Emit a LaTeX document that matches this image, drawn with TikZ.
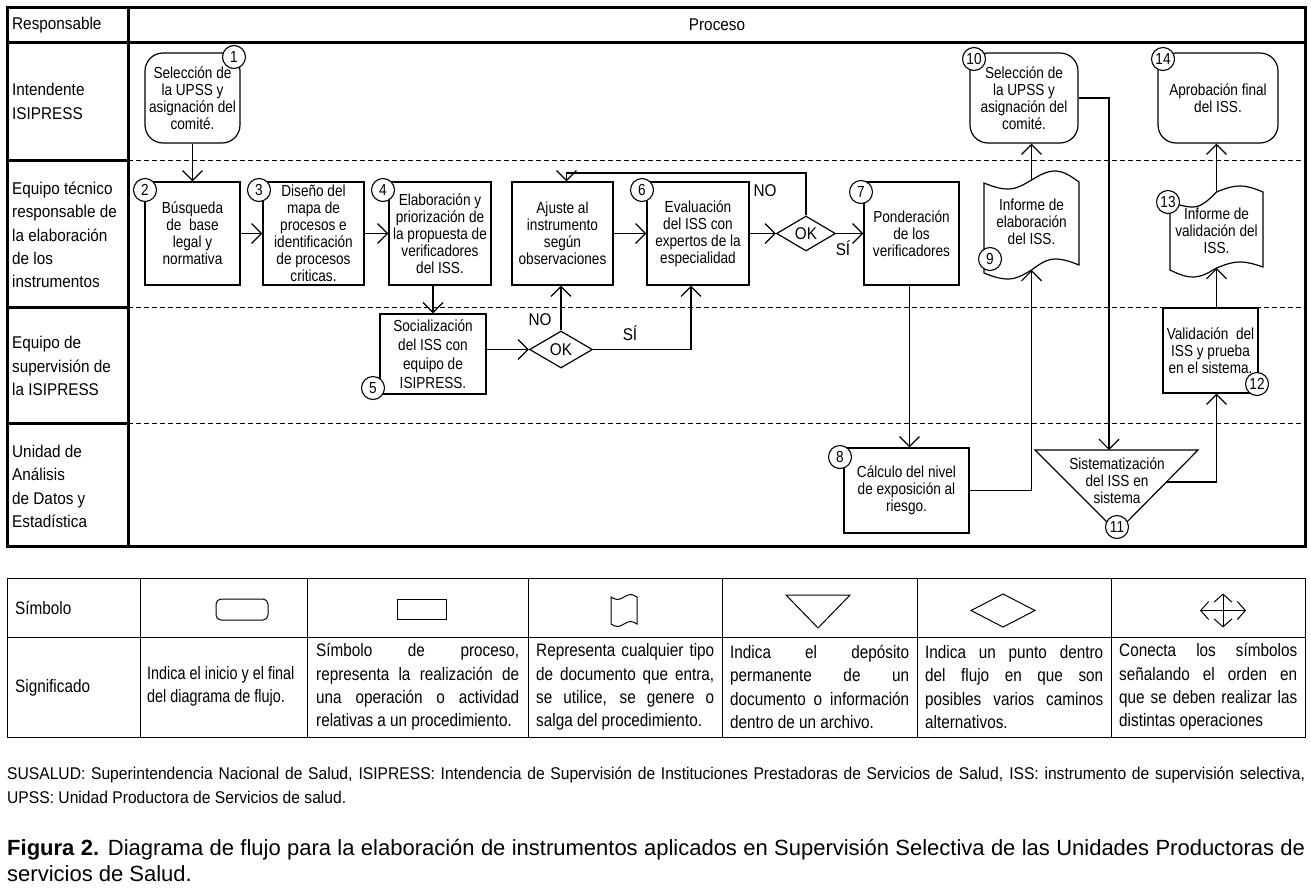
\documentclass[tikz,border=0pt]{standalone}
\usepackage{fontspec}
\setmainfont{Liberation Sans}
\newfontfamily\lanefont[FakeStretch=0.9]{Liberation Sans}
\newfontfamily\nodefont[FakeStretch=0.85]{Liberation Sans}
\newfontfamily\legfont[FakeStretch=0.85]{Liberation Sans}
\newfontfamily\legfontn[FakeStretch=0.8]{Liberation Sans}
\newfontfamily\notefont[FakeStretch=0.92]{Liberation Sans}
\usetikzlibrary{arrows.meta,shapes.geometric,calc}
\newcommand{\justln}[2]{\makebox[#1][s]{#2}}
\begin{document}
\begin{tikzpicture}[x=1pt,y=-1pt,
  lw/.style={line width=1.2pt},
  procbox/.style={draw, line width=1.2pt, rectangle, align=center, inner sep=1pt, font=\nodefont\fontsize{16}{17}\selectfont},
  termbox/.style={procbox, rounded corners=18pt},
  txt/.style={align=center, inner sep=0pt, font=\nodefont\fontsize{16}{17}\selectfont},
  numc/.style={draw, circle, fill=white, line width=1.1pt, minimum size=23pt, inner sep=0pt, font=\nodefont\fontsize{16}{16}\selectfont},
  decis/.style={draw, diamond, aspect=1.7, line width=1.2pt, inner sep=0pt, font=\lanefont\fontsize{17}{17}\selectfont},
  arr/.style={line width=1.2pt, -{Straight Barb[length=10pt,width=20pt]}},
  lane/.style={anchor=west, align=left, inner sep=0pt, font=\lanefont\fontsize{17}{23.3}\selectfont},
  lbl/.style={inner sep=0pt, font=\lanefont\fontsize{17}{17}\selectfont},
  sepline/.style={line width=1pt, dash pattern=on 5pt off 3pt},
  frame/.style={line width=3pt},
  legt/.style={anchor=west, align=left, inner sep=0pt, font=\legfont\fontsize{18}{23.3}\selectfont},
  legline/.style={line width=1pt},
  legsym/.style={line width=1pt},
  legarr/.style={line width=1pt, {Straight Barb[length=8pt,width=18pt]}-{Straight Barb[length=8pt,width=18pt]}}
]
\path[fill=white] (0,0) rectangle (1311,887);
\useasboundingbox (0,0) rectangle (1311,887);

% ---------- swimlane frame ----------
\draw[frame] (7,7) rectangle (1305,546);
\draw[frame] (7,42) -- (1305,42);
\draw[frame] (128,7) -- (128,546);
\foreach \yy in {160,307,423} {
  \draw[frame] (7,\yy) -- (128,\yy);
  \draw[sepline] (128,\yy) -- (1305,\yy);
}

\node[lane] (hresp) at (12,25) {Responsable};
\node[lbl] (hproc) at (717,25) {Proceso};
\node[lane] (lane1) at (12,101.5) {Intendente\\ISIPRESS};
\node[lane] (lane2) at (12,235) {Equipo técnico\\responsable de\\la elaboración\\de los\\instrumentos};
\node[lane] (lane3) at (12,366) {Equipo de\\supervisión de\\la ISIPRESS};
\node[lane] (lane4) at (12,486.5) {Unidad de\\Análisis\\de Datos y\\Estadística};

% ---------- process nodes ----------
\node[termbox, minimum width=95pt, minimum height=90pt] (n1) at (192.5,98) {Selección de\\la UPSS y\\asignación del\\comité.};
\node[procbox, minimum width=95pt, minimum height=103pt] (n2) at (192.5,233.5) {Búsqueda\\de\ \ base\\legal y\\normativa};
\node[procbox, minimum width=101pt, minimum height=103pt] (n3) at (313.5,233.5) {Diseño del\\mapa de\\procesos e\\identificación\\de procesos\\criticas.};
\node[procbox, minimum width=102pt, minimum height=103pt] (n4) at (440,233.5) {Elaboración y\\priorización de\\la propuesta de\\verificadores\\del ISS.};
\node[procbox, minimum width=101pt, minimum height=103pt] (aj) at (562.5,233.5) {Ajuste al\\instrumento\\según\\observaciones};
\node[procbox, minimum width=102pt, minimum height=103pt] (n6) at (698,233.5) {Evaluación\\del ISS con\\expertos de la\\especialidad};
\node[decis, minimum width=59pt, minimum height=35pt] (ok1) at (806,233.5) {OK};
\node[procbox, minimum width=95pt, minimum height=103pt] (n7) at (911.5,233.5) {Ponderación\\de los\\verificadores};
\node[termbox, minimum width=108pt, minimum height=90pt] (n10) at (1024,98) {Selección de\\la UPSS y\\asignación del\\comité.};
\node[termbox, minimum width=120pt, minimum height=90pt] (n14) at (1218,98) {Aprobación final\\del ISS.};
\node[procbox, minimum width=106pt, minimum height=80pt, font=\nodefont\fontsize{16}{19}\selectfont] (n5) at (433,354) {Socialización\\del ISS con\\equipo de\\ISIPRESS.};
\node[decis, minimum width=63pt, minimum height=37pt] (ok2) at (561,349.5) {OK};
\node[procbox, minimum width=95pt, minimum height=85pt] (n12) at (1210.5,350.5) {Validación\ \ del\\ISS y prueba\\en el sistema.};
\node[procbox, minimum width=125pt, minimum height=85pt] (n8) at (906.5,490.5) {Cálculo del nivel\\de exposición al\\riesgo.};

% documents
\draw[lw] (984,183) sin (1008,189) cos (1031.5,180) sin (1055,171) cos (1079,182)
  -- (1079,265) sin (1055,259) cos (1031.5,270) sin (1008,279) cos (984,273) -- cycle;
\node[txt] (n9) at (1031.5,222) {Informe de\\elaboración\\del ISS.};
\coordinate (d9top) at (1031.5,180);
\coordinate (d9bot) at (1031.5,270);

\draw[lw] (1170,202) sin (1193,207) cos (1216.5,192) sin (1240,186) cos (1263,192)
  -- (1263,267) sin (1240,262) cos (1216.5,268) sin (1193,277) cos (1170,270) -- cycle;
\node[txt] (n13) at (1216.5,231) {Informe de\\validación del\\ISS.};
\coordinate (d13top) at (1216.5,192);
\coordinate (d13bot) at (1216.5,268);

% triangle (storage)
\coordinate (t11a) at (1035,450);
\coordinate (t11b) at (1198,450);
\coordinate (t11c) at (1117,532);
\draw[lw] (t11a) -- (t11b) -- (t11c) -- cycle;
\node[txt] (n11) at (1117,481) {Sistematización\\del ISS en\\sistema};
\coordinate (t11top) at (1109,450);
\coordinate (t11r) at ($(t11b)!0.39!(t11c)$);

% ---------- connectors ----------
\coordinate (looptop) at (806,173);
\draw[arr] (n1) -- (n2);
\draw[arr] (n2) -- (n3);
\draw[arr] (n3) -- (n4);
\draw[arr] (n4.south -| n5) -- (n5.north);
\draw[arr] (n5.east |- ok2) -- (ok2.west);
\draw[arr] (ok2.north) -- (ok2.north |- aj.south);
\draw[arr] (ok2.east) -| ([xshift=-7pt]n6.south);
\draw[arr] (aj) -- (n6);
\draw[arr] (n6) -- (ok1);
\draw[arr] (ok1.north) -- (ok1.north |- looptop) -| ([xshift=4pt]aj.north);
\draw[arr] (ok1) -- (n7);
\draw[arr] ([xshift=-2pt]n7.south) -- ([xshift=-2pt]n7.south |- n8.north);
\draw[arr] (n8.east) -| (d9bot);
\draw[arr] (d9top) -- (d9top |- n10.south);
\draw[arr] (n10.east) -| (t11top);
\draw[arr] (t11r) -| (d13bot |- n12.south);
\draw[arr] (d13bot |- n12.north) -- (d13bot);
\draw[arr] (d13top) -- (d13top |- n14.south);

\node[lbl] (no1) at (765,191) {NO};
\node[lbl] (si1) at (843,248) {SÍ};
\node[lbl] (no2) at (540,320) {NO};
\node[lbl] (si2) at (630,333) {SÍ};

% ---------- step numbers ----------
\node[numc] (c1) at (234,57) {1};
\node[numc] (c2) at (145,190) {2};
\node[numc] (c3) at (259,190) {3};
\node[numc] (c4) at (383,190) {4};
\node[numc] (c5) at (373,388) {5};
\node[numc] (c6) at (642,190) {6};
\node[numc] (c7) at (861,192) {7};
\node[numc] (c8) at (840,457) {8};
\node[numc] (c9) at (990,259) {9};
\node[numc] (c10) at (974,59) {10};
\node[numc] (c11) at (1117,527) {11};
\node[numc] (c12) at (1257,384) {12};
\node[numc] (c13) at (1168,202) {13};
\node[numc] (c14) at (1163,59) {14};

% ---------- legend table ----------
\draw[legline] (7,578) rectangle (1305,737);
\draw[legline] (7,637) -- (1305,637);
\foreach \xx in {140,307,528,722,917,1111} \draw[legline] (\xx,578) -- (\xx,737);
\node[legt] (lsim) at (15,608) {Símbolo};
\node[legt] (lsig) at (15,688) {Significado};

\draw[legsym, rounded corners=5pt] (216,599) rectangle (268,620);
\draw[legsym] (397,599) rectangle (446,619);
\draw[legsym] (611,597) sin (617.5,599.5) cos (624,597) sin (630.5,594.5) cos (637,597)
  -- (637,624) sin (630.5,621.5) cos (624,624) sin (617.5,626.5) cos (611,624) -- cycle;
\draw[legsym] (786,595) -- (850,595) -- (818,628) -- cycle;
\draw[legsym] (971,610.5) -- (1003,594) -- (1035,610.5) -- (1003,627) -- cycle;
\coordinate (cx) at (1223,610.5);
\draw[legarr] ($(cx)+(-23,0)$) -- ($(cx)+(23,0)$);
\draw[legarr] ($(cx)+(0,-17)$) -- ($(cx)+(0,17)$);

\node[legt, font=\legfontn\fontsize{18}{23.3}\selectfont] (l2) at (147,686.5) {Indica el inicio y el final\\del diagrama de flujo.};
\node[legt] (l3) at (316,687) {\justln{203pt}{Símbolo de proceso,}\\\justln{203pt}{representa la realización de}\\\justln{203pt}{una operación o actividad}\\relativas a un procedimiento.};
\node[legt] (l4) at (536,687) {\justln{178pt}{Representa cualquier tipo}\\\justln{178pt}{de documento que entra,}\\\justln{178pt}{se utilice, se genere o}\\salga del procedimiento.};
\node[legt] (l5) at (730,687) {\justln{179pt}{Indica el depósito}\\\justln{179pt}{permanente de un}\\\justln{179pt}{documento o información}\\dentro de un archivo.};
\node[legt] (l6) at (925,687) {\justln{178pt}{Indica un punto dentro}\\\justln{178pt}{del flujo en que son}\\\justln{178pt}{posibles varios caminos}\\alternativos.};
\node[legt] (l7) at (1119,687) {\justln{178pt}{Conecta los símbolos}\\\justln{178pt}{señalando el orden en}\\\justln{178pt}{que se deben realizar las}\\distintas operaciones};

% ---------- footnote and caption ----------
\node[anchor=west, align=left, inner sep=0pt, font=\notefont\fontsize{17}{24}\selectfont] (foot) at (7,785)
 {\justln{1298pt}{SUSALUD: Superintendencia Nacional de Salud, ISIPRESS: Intendencia de Supervisión de Instituciones Prestadoras de Servicios de Salud, ISS: instrumento de supervisión selectiva,}\\UPSS: Unidad Productora de Servicios de salud.};
\node[anchor=west, align=left, inner sep=0pt, font=\fontsize{22}{26}\selectfont] (cap) at (7,860)
 {\justln{1298pt}{\textbf{Figura 2.} Diagrama de flujo para la elaboración de instrumentos aplicados en Supervisión Selectiva de las Unidades Productoras de}\\servicios de Salud.};
\end{tikzpicture}
\end{document}
